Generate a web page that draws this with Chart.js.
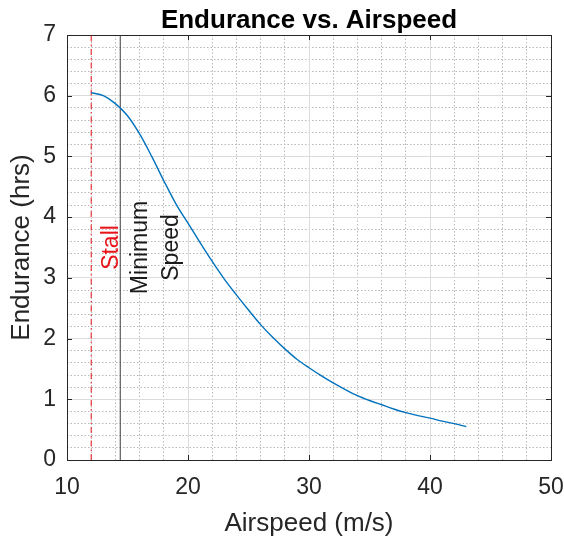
<!DOCTYPE html>
<html>
<head>
<meta charset="utf-8">
<script src="https://cdn.jsdelivr.net/npm/chart.js@4.4.0/dist/chart.umd.min.js"></script>
<style>
  html, body { margin: 0; padding: 0; background: #fff; }
  #wrap { width: 564px; height: 541px; position: relative; }
</style>
</head>
<body>
<div id="wrap"><canvas id="enduranceChart"></canvas></div>
<script>
// Endurance curve (airspeed m/s -> hours)
const airspeed = [12, 13, 14, 15, 16, 17, 18, 19, 20, 21, 22, 23, 24, 25, 26, 27,
    28, 29, 30, 31, 32, 33, 34, 35, 36, 37, 38, 39, 40, 41, 42, 43];
const endurance = [6.05, 6.00, 5.87, 5.67, 5.37, 5.00, 4.60, 4.22, 3.90, 3.58, 3.27, 2.98,
    2.72, 2.47, 2.23, 2.02, 1.83, 1.66, 1.52, 1.39, 1.27, 1.16, 1.06, 0.98, 0.91, 0.84,
    0.78, 0.73, 0.69, 0.64, 0.60, 0.55];

// Reference speeds (vertical markers)
const stallSpeed = 12;
const minimumSpeed = 14.4;
const markerSpan = [0, 7];

// Axis ticks
const xTicks = [10, 20, 30, 40, 50];
const yTicks = [0, 1, 2, 3, 4, 5, 6, 7];

// Rotated annotation text: [text, x, y, colour]
const notes = [
    ['Stall', 13.7, 3.5, '#e8141a'],
    ['Minimum', 16.05, 3.5, '#1a1a1a'],
    ['Speed', 18.65, 3.5, '#1a1a1a']
];

const FONT = "'Liberation Sans', Arial, sans-serif";
const AXIS_COLOR = '#262626';

function isWhole(v, step) {
    const r = v / step;
    return Math.abs(r - Math.round(r)) < 1e-6;
}

// MATLAB-style box, inward ticks, title and the rotated notes
const decorPlugin = {
    id: 'decor',
    beforeDatasetsDraw(chart) {
        const { ctx, chartArea: a, scales } = chart;
        ctx.save();
        ctx.strokeStyle = AXIS_COLOR;
        ctx.lineWidth = 1;
        ctx.strokeRect(Math.round(a.left) + 0.5, Math.round(a.top) + 0.5,
            Math.round(a.right - a.left), Math.round(a.bottom - a.top));
        ctx.beginPath();
        xTicks.forEach(v => {
            const px = Math.round(scales.x.getPixelForValue(v)) + 0.5;
            ctx.moveTo(px, a.bottom); ctx.lineTo(px, a.bottom - 5);
            ctx.moveTo(px, a.top); ctx.lineTo(px, a.top + 5);
        });
        yTicks.forEach(v => {
            const py = Math.round(scales.y.getPixelForValue(v)) + 0.5;
            ctx.moveTo(a.left, py); ctx.lineTo(a.left + 5, py);
            ctx.moveTo(a.right, py); ctx.lineTo(a.right - 5, py);
        });
        ctx.stroke();
        ctx.restore();
    },
    afterDraw(chart) {
        const { ctx, chartArea: a, scales } = chart;
        ctx.save();
        ctx.fillStyle = '#000';
        ctx.font = 'bold 26px ' + FONT;
        ctx.textAlign = 'center';
        ctx.textBaseline = 'alphabetic';
        ctx.fillText('Endurance vs. Airspeed', (a.left + a.right) / 2, 28);

        ctx.font = '23px ' + FONT;
        ctx.textBaseline = 'middle';
        notes.forEach(([text, x, y, color]) => {
            ctx.save();
            ctx.translate(scales.x.getPixelForValue(x), scales.y.getPixelForValue(y));
            ctx.rotate(-Math.PI / 2);
            ctx.fillStyle = color;
            ctx.fillText(text, 0, 0);
            ctx.restore();
        });
        ctx.restore();
    }
};

function initEnduranceChart() {
    const ctx = document.getElementById('enduranceChart');

    const curve = airspeed.map((v, i) => ({ x: v, y: endurance[i] }));
    const stallLine = markerSpan.map(y => ({ x: stallSpeed, y: y }));
    const minLine = markerSpan.map(y => ({ x: minimumSpeed, y: y }));

    const chartConfig = {
        type: 'line',
        data: {
            datasets: [
                {
                    label: 'Endurance',
                    data: curve,
                    borderColor: '#0072BD',
                    borderWidth: 1.4,
                    pointRadius: 0,
                    cubicInterpolationMode: 'monotone',
                    fill: false
                },
                {
                    label: 'Stall',
                    data: stallLine,
                    borderColor: '#e8141a',
                    borderWidth: 1,
                    borderDash: [6, 3, 1.5, 3],
                    pointRadius: 0
                },
                {
                    label: 'Minimum Speed',
                    data: minLine,
                    borderColor: '#3a3a3a',
                    borderWidth: 1,
                    pointRadius: 0
                }
            ]
        },
        options: {
            responsive: true,
            maintainAspectRatio: false,
            animation: false,
            layout: {
                padding: { top: 35, right: 0, left: 0, bottom: 0 }
            },
            plugins: {
                legend: { display: false },
                tooltip: { enabled: false },
                title: { display: false }
            },
            scales: {
                xMinor: {
                    type: 'linear',
                    position: 'bottom',
                    min: 10,
                    max: 50,
                    ticks: { display: false, stepSize: 2 },
                    border: { display: false, dash: [1.5, 2] },
                    grid: {
                        drawTicks: false,
                        color: c => isWhole(c.tick.value, 10) ? 'rgba(0,0,0,0)' : '#b8b8b8'
                    },
                    afterFit: s => { s.height = 0; s.paddingLeft = 0; s.paddingRight = 0; }
                },
                yMinor: {
                    type: 'linear',
                    position: 'left',
                    min: 0,
                    max: 7,
                    ticks: { display: false, stepSize: 0.2 },
                    border: { display: false, dash: [1.5, 2] },
                    grid: {
                        drawTicks: false,
                        color: c => isWhole(c.tick.value, 1) ? 'rgba(0,0,0,0)' : '#b8b8b8'
                    },
                    afterFit: s => { s.width = 0; s.paddingTop = 0; s.paddingBottom = 0; }
                },
                x: {
                    type: 'linear',
                    position: 'bottom',
                    min: 10,
                    max: 50,
                    ticks: {
                        stepSize: 10,
                        padding: 14,
                        color: AXIS_COLOR,
                        font: { family: FONT, size: 23 }
                    },
                    border: { display: false },
                    grid: { drawTicks: false, color: '#dcdcdc' },
                    title: {
                        display: true,
                        text: 'Airspeed (m/s)',
                        color: AXIS_COLOR,
                        font: { family: FONT, size: 26 },
                        padding: { top: 0, bottom: 2 }
                    },
                    afterFit: s => { s.height = 81; s.paddingLeft = 0; s.paddingRight = 13; }
                },
                y: {
                    type: 'linear',
                    position: 'left',
                    min: 0,
                    max: 7,
                    ticks: {
                        stepSize: 1,
                        padding: 11,
                        color: AXIS_COLOR,
                        font: { family: FONT, size: 23 }
                    },
                    border: { display: false },
                    grid: { drawTicks: false, color: '#dcdcdc' },
                    title: {
                        display: true,
                        text: 'Endurance (hrs)',
                        color: AXIS_COLOR,
                        font: { family: FONT, size: 26 },
                        padding: { top: 6, bottom: 0 }
                    },
                    afterFit: s => { s.width = 67; }
                }
            }
        },
        plugins: [decorPlugin]
    };

    return new Chart(ctx, chartConfig);
}

initEnduranceChart();
</script>
</body>
</html>
